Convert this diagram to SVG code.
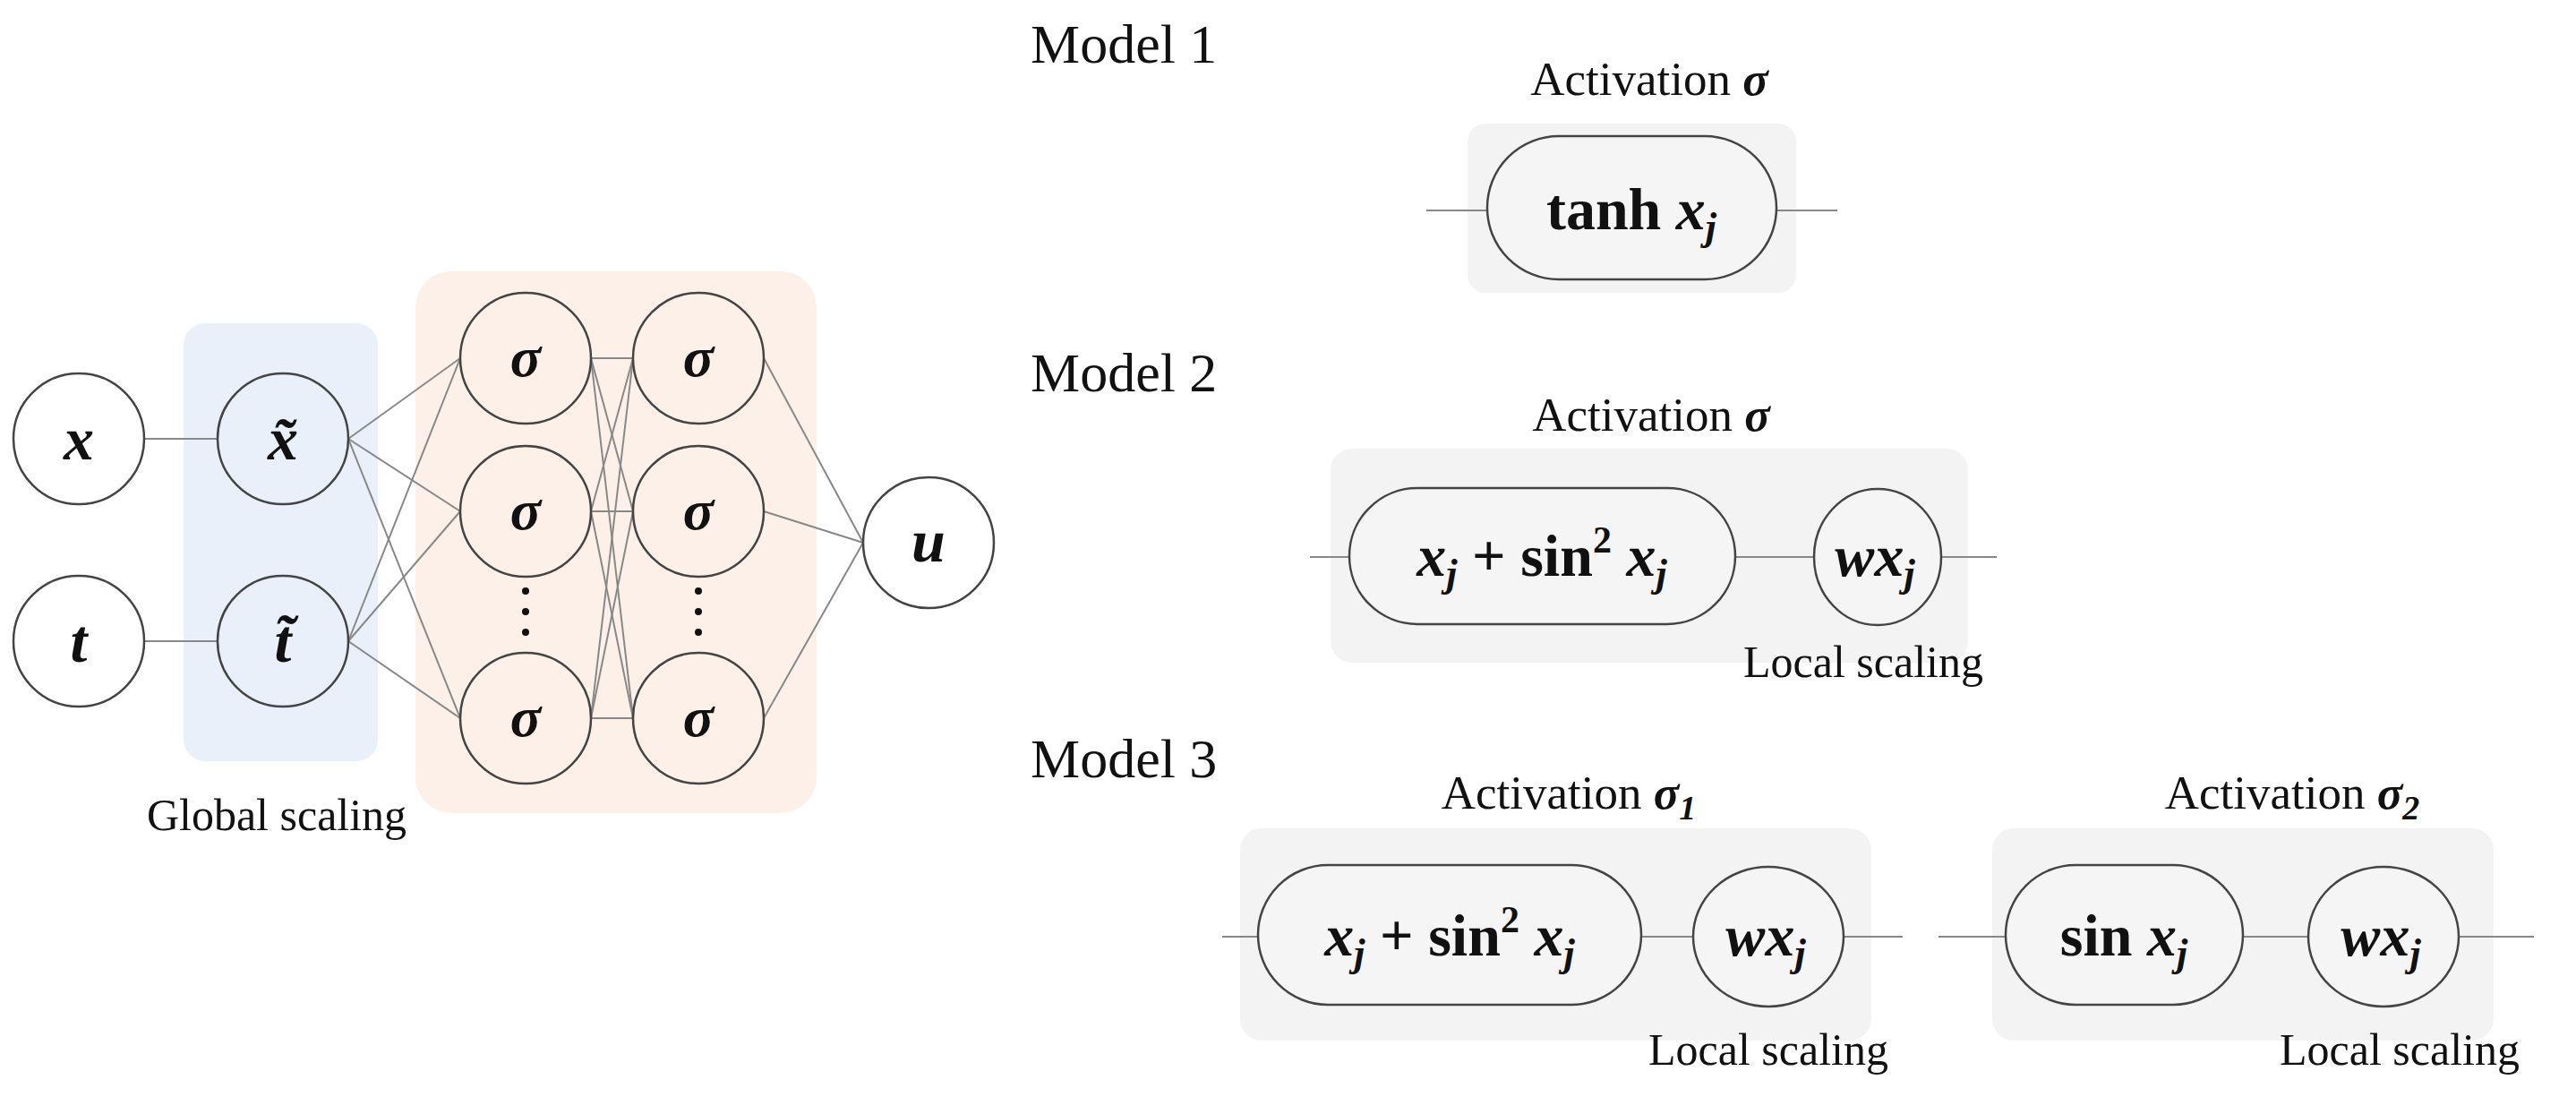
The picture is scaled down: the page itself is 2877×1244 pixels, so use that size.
<svg xmlns="http://www.w3.org/2000/svg" width="2877" height="1244" viewBox="0 0 2877 1244">
<style>
.n{fill:#fff;stroke:#444;stroke-width:2.5}
.p{fill:#f5f5f5;stroke:#444;stroke-width:2.5}
.e{stroke:#888;stroke-width:2;fill:none}
.t{font-family:"Liberation Serif",serif;fill:#111}
.m{font-family:"Liberation Serif",serif;font-weight:bold;font-style:italic;fill:#111}
.b{font-weight:bold;font-style:normal}
.g{fill:#f3f3f3}
</style>
<rect width="2877" height="1244" fill="#fff"/>
<rect x="205" y="361" width="217" height="489" rx="24" fill="#eaf0fa"/>
<rect x="464" y="303" width="448" height="605" rx="40" fill="#fdf0e8"/>
<rect x="1639" y="138" width="367" height="189" rx="20" class="g"/>
<rect x="1486" y="501" width="712" height="239" rx="24" class="g"/>
<rect x="1385" y="925" width="705" height="237" rx="24" class="g"/>
<rect x="2225" y="925" width="560" height="237" rx="24" class="g"/>
<g id="connectors" class="e">
<line x1="161" y1="490" x2="243" y2="490"/><line x1="161" y1="716" x2="243" y2="716"/>
<line x1="389" y1="490" x2="514" y2="400"/><line x1="389" y1="490" x2="514" y2="571"/><line x1="389" y1="490" x2="514" y2="802"/>
<line x1="389" y1="716" x2="514" y2="400"/><line x1="389" y1="716" x2="514" y2="571"/><line x1="389" y1="716" x2="514" y2="802"/>
<line x1="660" y1="400" x2="707" y2="400"/><line x1="660" y1="400" x2="707" y2="571"/><line x1="660" y1="400" x2="707" y2="802"/>
<line x1="660" y1="571" x2="707" y2="400"/><line x1="660" y1="571" x2="707" y2="571"/><line x1="660" y1="571" x2="707" y2="802"/>
<line x1="660" y1="802" x2="707" y2="400"/><line x1="660" y1="802" x2="707" y2="571"/><line x1="660" y1="802" x2="707" y2="802"/>
<line x1="853" y1="400" x2="964" y2="606"/><line x1="853" y1="571" x2="964" y2="606"/><line x1="853" y1="802" x2="964" y2="606"/>
<line x1="1593" y1="235" x2="1661" y2="235"/><line x1="1984" y1="235" x2="2052" y2="235"/>
<line x1="1463" y1="622" x2="1507" y2="622"/><line x1="1938" y1="622" x2="2026" y2="622"/><line x1="2168" y1="622" x2="2230" y2="622"/>
<line x1="1365" y1="1046" x2="1405" y2="1046"/><line x1="1833" y1="1046" x2="1891" y2="1046"/><line x1="2059" y1="1046" x2="2125" y2="1046"/>
<line x1="2165" y1="1046" x2="2240" y2="1046"/><line x1="2505" y1="1046" x2="2578" y2="1046"/><line x1="2746" y1="1046" x2="2830" y2="1046"/>
</g>
<g id="n-x"><circle cx="88" cy="490" r="73" class="n"/><text x="88" y="513" class="m" font-size="68" text-anchor="middle">x</text></g>
<g id="n-t"><circle cx="88" cy="716" r="73" class="n"/><text x="88" y="739" class="m" font-size="68" text-anchor="middle">t</text></g>
<g id="n-xs"><circle cx="316" cy="490" r="73" fill="none" stroke="#444" stroke-width="2.5"/><text x="316" y="513" class="m" font-size="68" text-anchor="middle">x̃</text></g>
<g id="n-ts"><circle cx="316" cy="716" r="73" fill="none" stroke="#444" stroke-width="2.5"/><text x="316" y="739" class="m" font-size="68" text-anchor="middle">t̃</text></g>
<g id="n-s11"><circle cx="587" cy="400" r="73" fill="none" stroke="#444" stroke-width="2.5"/><text x="587" y="420" class="m" font-size="64" text-anchor="middle">σ</text></g>
<g id="n-s12"><circle cx="587" cy="571" r="73" fill="none" stroke="#444" stroke-width="2.5"/><text x="587" y="591" class="m" font-size="64" text-anchor="middle">σ</text></g>
<g id="n-s13"><circle cx="587" cy="802" r="73" fill="none" stroke="#444" stroke-width="2.5"/><text x="587" y="822" class="m" font-size="64" text-anchor="middle">σ</text></g>
<g id="n-s21"><circle cx="780" cy="400" r="73" fill="none" stroke="#444" stroke-width="2.5"/><text x="780" y="420" class="m" font-size="64" text-anchor="middle">σ</text></g>
<g id="n-s22"><circle cx="780" cy="571" r="73" fill="none" stroke="#444" stroke-width="2.5"/><text x="780" y="591" class="m" font-size="64" text-anchor="middle">σ</text></g>
<g id="n-s23"><circle cx="780" cy="802" r="73" fill="none" stroke="#444" stroke-width="2.5"/><text x="780" y="822" class="m" font-size="64" text-anchor="middle">σ</text></g>
<g id="dots" fill="#111"><circle cx="587" cy="660" r="4"/><circle cx="587" cy="683" r="4"/><circle cx="587" cy="706" r="4"/><circle cx="780" cy="660" r="4"/><circle cx="780" cy="683" r="4"/><circle cx="780" cy="706" r="4"/></g>
<g id="n-u"><circle cx="1037" cy="606" r="73" class="n"/><text x="1037" y="627" class="m" font-size="68" text-anchor="middle">u</text></g>
<text x="309" y="927" class="t" font-size="50" text-anchor="middle">Global scaling</text>
<text x="1151" y="70" class="t" font-size="62">Model 1</text>
<text x="1151" y="437" class="t" font-size="62">Model 2</text>
<text x="1151" y="868" class="t" font-size="62">Model 3</text>
<g id="m1">
<text x="1842" y="106" class="t" font-size="53" text-anchor="middle">Activation <tspan class="m">σ</tspan></text>
<rect x="1661" y="152" width="323" height="160" rx="80" class="p"/>
<text x="1822" y="256" class="m" font-size="66" text-anchor="middle"><tspan class="b">tanh </tspan>x<tspan font-size="44" dy="12">j</tspan></text>
</g>
<g id="m2">
<text x="1844" y="481" class="t" font-size="53" text-anchor="middle">Activation <tspan class="m">σ</tspan></text>
<rect x="1507" y="545" width="431" height="152" rx="76" class="p"/>
<text x="1722" y="643" class="m" font-size="66" text-anchor="middle">x<tspan font-size="44" dy="12">j</tspan><tspan dy="-12" class="b"> + sin</tspan><tspan font-size="42" dy="-26" class="b">2</tspan><tspan dy="26"> x</tspan><tspan font-size="44" dy="12">j</tspan></text>
<ellipse cx="2097" cy="622" rx="71" ry="76" class="p"/>
<text x="2094" y="643" class="m" font-size="66" text-anchor="middle">wx<tspan font-size="44" dy="12">j</tspan></text>
<text x="2081" y="756" class="t" font-size="50" text-anchor="middle">Local scaling</text>
</g>
<g id="m3a">
<text x="1752" y="903" class="t" font-size="53" text-anchor="middle">Activation <tspan class="m">σ<tspan font-size="38" dy="12">1</tspan></tspan></text>
<rect x="1405" y="966" width="428" height="156" rx="78" class="p"/>
<text x="1619" y="1067" class="m" font-size="66" text-anchor="middle">x<tspan font-size="44" dy="12">j</tspan><tspan dy="-12" class="b"> + sin</tspan><tspan font-size="42" dy="-26" class="b">2</tspan><tspan dy="26"> x</tspan><tspan font-size="44" dy="12">j</tspan></text>
<ellipse cx="1975" cy="1046" rx="84" ry="78" class="p"/>
<text x="1972" y="1067" class="m" font-size="66" text-anchor="middle">wx<tspan font-size="44" dy="12">j</tspan></text>
<text x="1975" y="1189" class="t" font-size="50" text-anchor="middle">Local scaling</text>
</g>
<g id="m3b">
<text x="2560" y="903" class="t" font-size="53" text-anchor="middle">Activation <tspan class="m">σ<tspan font-size="38" dy="12">2</tspan></tspan></text>
<rect x="2240" y="966" width="265" height="156" rx="78" class="p"/>
<text x="2372" y="1067" class="m" font-size="66" text-anchor="middle"><tspan class="b">sin </tspan>x<tspan font-size="44" dy="12">j</tspan></text>
<ellipse cx="2662" cy="1046" rx="84" ry="78" class="p"/>
<text x="2659" y="1067" class="m" font-size="66" text-anchor="middle">wx<tspan font-size="44" dy="12">j</tspan></text>
<text x="2680" y="1189" class="t" font-size="50" text-anchor="middle">Local scaling</text>
</g>
</svg>
